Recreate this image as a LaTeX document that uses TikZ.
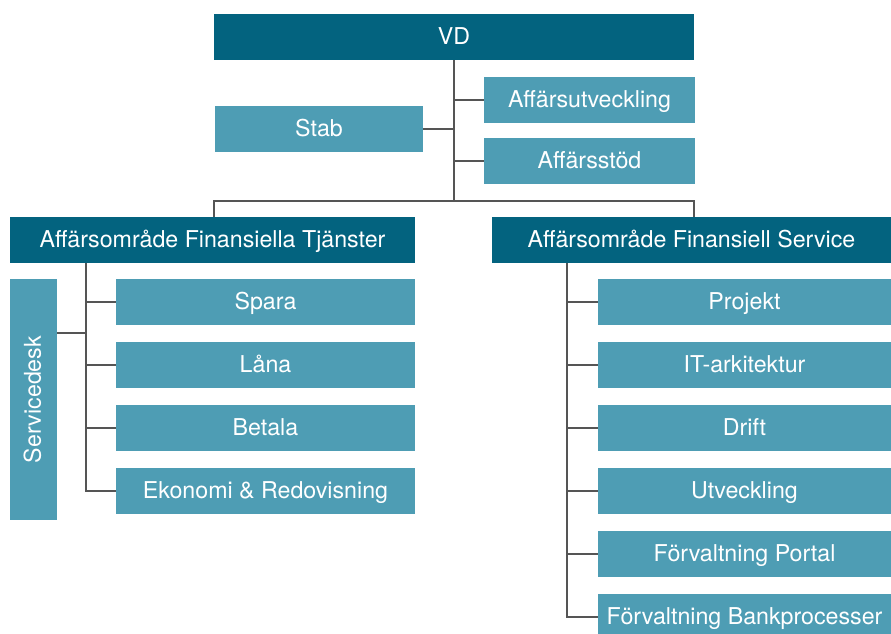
\documentclass[tikz,border=0pt]{standalone}
\usepackage{fontspec}
\setmainfont{TeX Gyre Heros}
\definecolor{headblue}{HTML}{03637F}
\definecolor{unitblue}{HTML}{4E9DB4}
\definecolor{linegray}{HTML}{555555}
\begin{document}
\begin{tikzpicture}[x=1pt,y=-1pt]
        \tikzstyle{box}=[rectangle,inner sep=0pt,minimum height=46pt,text height=18pt,text depth=3.4pt,text=white,font=\fontsize{23.2}{27}\selectfont]
        \tikzstyle{head}=[box,fill=headblue]
        \tikzstyle{unit}=[box,fill=unitblue]
        \tikzstyle{conn}=[draw=linegray,line width=1.3pt]
        \useasboundingbox (0,0) rectangle (891,634);
        \clip (0,0) rectangle (891,634);
        \node[head,minimum width=480pt] (vd) at (454,37) {VD};
        \node[unit,minimum width=211pt] (utv) at (589.5,100) {Affärsutveckling};
        \node[unit,minimum width=211pt] (stod) at (589.5,161) {Affärsstöd};
        \node[unit,minimum width=208pt] (stab) at (319,129) {Stab};
        \node[head,minimum width=405pt] (ft) at (212.5,240) {Affärsområde Finansiella Tjänster};
        \node[head,minimum width=399pt] (fs) at (691.5,240) {Affärsområde Finansiell Service};
        \node[unit,minimum width=241pt,minimum height=47pt,rotate=90] (sd) at (33.5,399.5) {Servicedesk};
        \foreach \name/\txt [count=\i from 0] in {spara/Spara,lana/Låna,betala/Betala,eko/Ekonomi \& Redovisning}
                \node[unit,minimum width=299pt] (\name) at (265.5,302+63*\i) {\txt};
        \foreach \name/\txt [count=\i from 0] in {proj/Projekt,it/IT-arkitektur,drift/Drift,utveck/Utveckling,portal/Förvaltning Portal,bank/Förvaltning Bankprocesser}
                \node[unit,minimum width=293pt] (\name) at (744.5,302+63*\i) {\txt};
        \coordinate (split) at (454,201);
        \coordinate (ftbus) at (86,263);
        \coordinate (fsbus) at (567,263);
        \draw[conn] (vd.south) -- (split);
        \draw[conn] (stab.east) -- (stab.east -| vd.south);
        \draw[conn] (utv.west) -- (utv.west -| vd.south);
        \draw[conn] (stod.west) -- (stod.west -| vd.south);
        \draw[conn] ([xshift=1.5pt]ft.north) |- (split) -| ([xshift=2.5pt]fs.north);
        \draw[conn] (ftbus) |- (eko.west);
        \foreach \name in {spara,lana,betala}
                \draw[conn] (\name.west) -- (\name.west -| ftbus);
        \draw[conn] ([yshift=66.5pt]sd.south) -- ([yshift=66.5pt]sd.south -| ftbus);
        \draw[conn] (fsbus) |- (bank.west);
        \foreach \name in {proj,it,drift,utveck,portal}
                \draw[conn] (\name.west) -- (\name.west -| fsbus);
\end{tikzpicture}
\end{document}
